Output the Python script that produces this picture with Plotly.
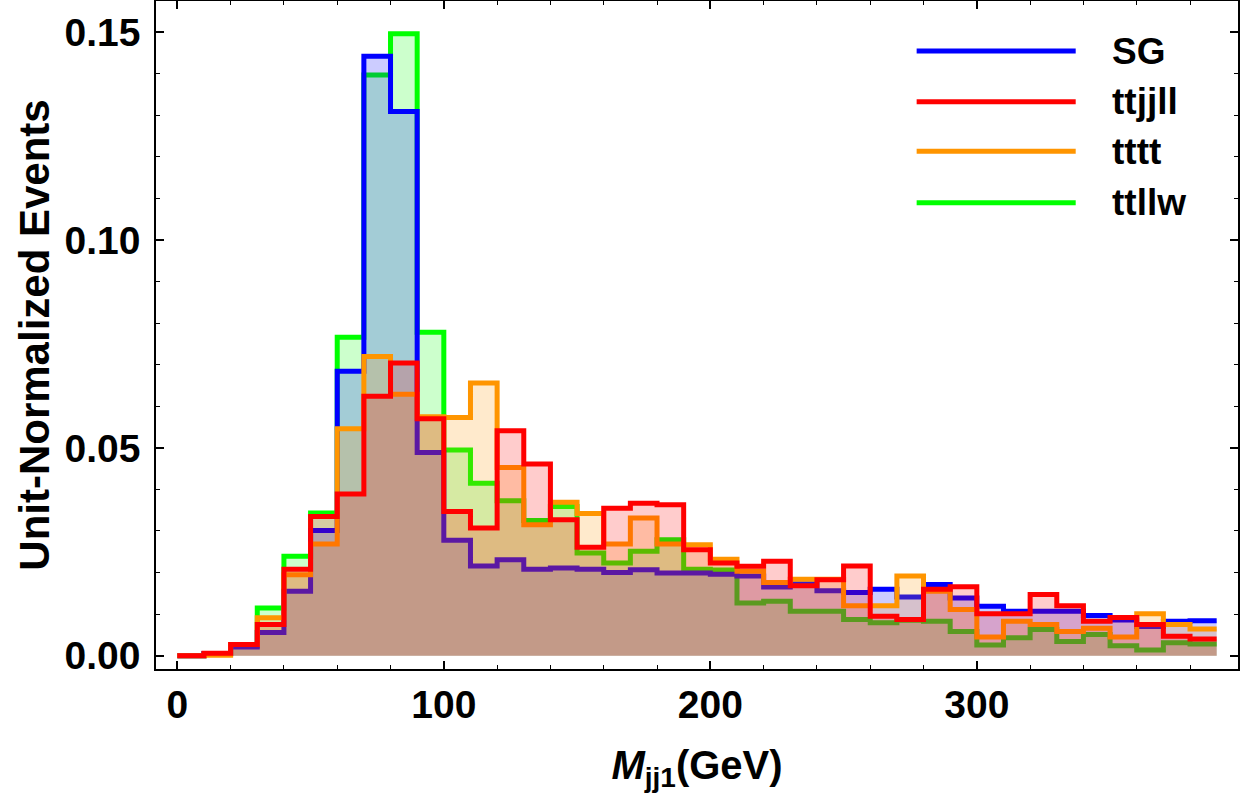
import numpy as np
import plotly.graph_objects as go

bin_width = 10
n_bins = 39
edges = np.arange(n_bins + 1) * bin_width

sg = [0.0, 0.0005, 0.0021, 0.0056, 0.0155, 0.0301, 0.0684, 0.1442, 0.1309, 0.0489,
      0.0278, 0.0216, 0.0231, 0.0208, 0.0211, 0.0208, 0.0200, 0.0207, 0.0199, 0.0199,
      0.0196, 0.0192, 0.0165, 0.0173, 0.0156, 0.0152, 0.0160, 0.0141, 0.0171, 0.0139,
      0.0119, 0.0107, 0.0107, 0.0107, 0.0097, 0.0086, 0.0070, 0.0083, 0.0084]
ttjjll = [0.0, 0.0006, 0.0027, 0.0075, 0.0208, 0.0335, 0.0389, 0.0624, 0.0704, 0.0570,
          0.0347, 0.0307, 0.0541, 0.0461, 0.0327, 0.0261, 0.0355, 0.0367, 0.0363, 0.0255,
          0.0223, 0.0215, 0.0227, 0.0168, 0.0183, 0.0216, 0.0095, 0.0087, 0.0160, 0.0166,
          0.0101, 0.0101, 0.0147, 0.0120, 0.0083, 0.0092, 0.0075, 0.0047, 0.0040]
tttt = [0.0, 0.0001, 0.0027, 0.0091, 0.0195, 0.0269, 0.0546, 0.0720, 0.0629, 0.0575,
        0.0573, 0.0656, 0.0453, 0.0315, 0.0369, 0.0342, 0.0269, 0.0331, 0.0269, 0.0267,
        0.0232, 0.0203, 0.0176, 0.0184, 0.0184, 0.0120, 0.0120, 0.0192, 0.0155, 0.0111,
        0.0045, 0.0083, 0.0075, 0.0058, 0.0066, 0.0045, 0.0101, 0.0075, 0.0064]
ttllw = [0.0, 0.0004, 0.0024, 0.0115, 0.0239, 0.0343, 0.0766, 0.1397, 0.1496, 0.0778,
         0.0495, 0.0415, 0.0373, 0.0325, 0.0359, 0.0247, 0.0223, 0.0251, 0.0279, 0.0208,
         0.0206, 0.0127, 0.0131, 0.0107, 0.0107, 0.0087, 0.0079, 0.0085, 0.0083, 0.0058,
         0.0026, 0.0043, 0.0063, 0.0034, 0.0051, 0.0024, 0.0014, 0.0031, 0.0028]

series_names = ["SG", "ttjjll", "tttt", "ttllw"]
series_data = {"SG": sg, "ttjjll": ttjjll, "tttt": tttt, "ttllw": ttllw}
line_colors = {"SG": "#0000ff", "ttjjll": "#ff0000", "tttt": "#ff9500", "ttllw": "#00ff00"}
fill_colors = {"SG": "rgba(0,0,255,0.2)", "ttjjll": "rgba(255,0,0,0.2)",
               "tttt": "rgba(255,149,0,0.2)", "ttllw": "rgba(0,255,0,0.2)"}
draw_order = ["ttllw", "SG", "tttt", "ttjjll"]

FONT = "Liberation Sans, Arial, sans-serif"

fig = go.Figure()
for name in draw_order:
    vals = series_data[name]
    fig.add_trace(go.Scatter(
        x=edges, y=list(vals) + [vals[-1]],
        mode="lines", line=dict(shape="hv", color=line_colors[name], width=5),
        fill="tozeroy", fillcolor=fill_colors[name],
        name=name, showlegend=False, hoverinfo="skip"))

axis_common = dict(
    showline=True, linecolor="black", linewidth=1.5, mirror="ticks",
    ticks="inside", ticklen=8, tickwidth=1.5, tickcolor="black",
    showgrid=False, zeroline=False,
    tickfont=dict(family=FONT, size=39, color="black", weight="bold"),
)

fig.update_xaxes(
    range=[-8, 398], tickvals=[0, 100, 200, 300],
    minor=dict(dtick=20, tick0=0, ticks="inside", ticklen=4, tickwidth=1.2, tickcolor="black"),
    title=dict(text="<i>M</i><sub>jj1</sub>(GeV)", standoff=26,
               font=dict(family=FONT, size=40, color="black", weight="bold")),
    ticklabelstandoff=0,
    **axis_common)
fig.update_yaxes(
    range=[-0.0032, 0.1575], tickvals=[0, 0.05, 0.10, 0.15], tickformat=".2f",
    minor=dict(dtick=0.01, tick0=0, ticks="inside", ticklen=4, tickwidth=1.2, tickcolor="black"),
    title=dict(text="Unit-Normalized Events", standoff=2,
               font=dict(family=FONT, size=42, color="black", weight="bold")),
    ticklabelstandoff=6,
    **axis_common)

# manual legend
legend_rows_y = [0.925, 0.849, 0.775, 0.698]
for name, yy in zip(series_names, legend_rows_y):
    fig.add_shape(type="line", xref="paper", yref="paper", x0=0.703, x1=0.850, y0=yy, y1=yy,
                  line=dict(color=line_colors[name], width=5))
    fig.add_annotation(xref="paper", yref="paper", x=0.882, y=yy, text=name, showarrow=False,
                       xanchor="left", yanchor="middle",
                       font=dict(family=FONT, size=37, color="black", weight="bold"))

fig.update_layout(
    width=1242, height=796,
    margin=dict(l=156, r=4, t=1, b=127, autoexpand=False),
    plot_bgcolor="white", paper_bgcolor="white",
)

fig.write_html("out.html")
